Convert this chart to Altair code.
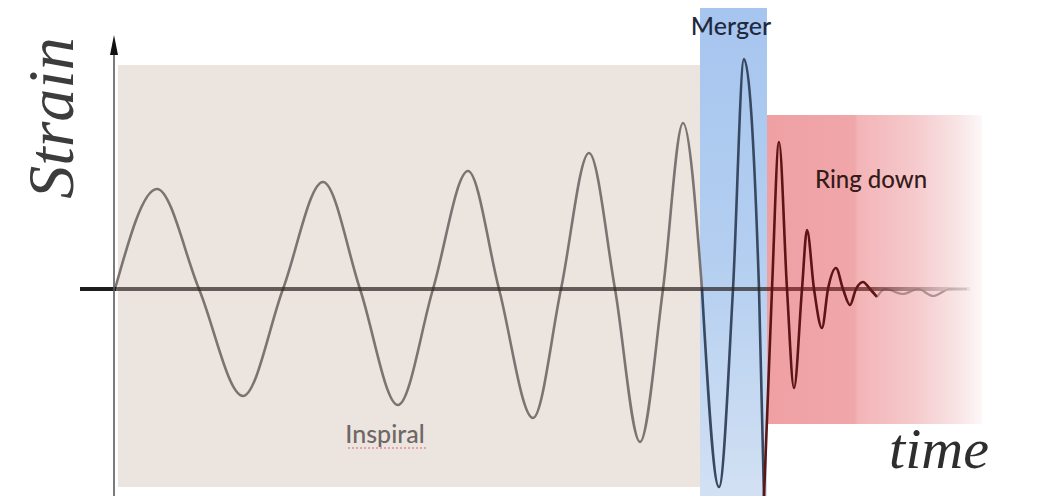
import altair as alt
import pandas as pd

# ---- waveform (time and strain in arbitrary units) ----
inspiral_t = [0.00, 0.42, 0.84, 1.28, 1.68, 2.08, 2.45, 2.83, 3.18, 3.53, 3.84,
              4.18, 4.46, 4.74, 5.00, 5.25, 5.48, 5.68, 5.87]
inspiral_h = [0.00, 1.00, 0.00, -1.07, 0.00, 1.07, 0.00, -1.16, 0.00, 1.18, 0.00,
              -1.29, 0.00, 1.36, 0.00, -1.53, 0.00, 1.66, 0.00]
merger_t = [5.87, 6.04, 6.18, 6.29, 6.44, 6.49]
merger_h = [0.00, -1.98, 0.00, 2.30, 0.00, -2.08]
ringdown_t = [6.49, 6.57, 6.64, 6.72, 6.79, 6.87, 6.92, 6.99, 7.07, 7.13, 7.21,
              7.28, 7.35, 7.41, 7.48, 7.55, 7.62]
ringdown_h = [-2.08, 0.00, 1.47, 0.00, -0.99, 0.00, 0.59, 0.00, -0.39, 0.00, 0.21,
              0.00, -0.16, 0.00, 0.07, 0.00, -0.08]
tail_t = [7.62, 7.70, 7.88, 8.03, 8.18, 8.35, 8.52]
tail_h = [-0.08, 0.00, -0.05, 0.00, -0.07, 0.00, 0.00]

# ---- phase bands ----
phase_names = ["Inspiral", "Merger", "Ring down"]
phase_t0 = [0.03, 5.85, 6.52]
phase_t1 = [5.85, 6.52, 8.67]
phase_h0 = [-1.98, -2.13, -1.35]
phase_h1 = [2.24, 2.89, 1.74]

# ---- labels ----
label_text = ["Inspiral", "Merger", "Ring down"]
label_t = [2.70, 6.16, 7.56]
label_h = [-1.54, 2.54, 1.01]
label_colors = ["#6f6765", "#1f2a40", "#351a1a"]
label_sizes = [25, 25, 24]

XDOM = [-1.07, 9.23]
YDOM = [-2.07, 2.81]
xs = alt.Scale(domain=XDOM, nice=False, zero=False)
ys = alt.Scale(domain=YDOM, nice=False, zero=False)


def X(field="t"):
    return alt.X(f"{field}:Q", scale=xs, axis=None)


def Y(field="h"):
    return alt.Y(f"{field}:Q", scale=ys, axis=None)


def band(i, fill):
    df = pd.DataFrame({"t": [phase_t0[i]], "t2": [phase_t1[i]],
                       "h": [phase_h0[i]], "h2": [phase_h1[i]]})
    return alt.Chart(df).mark_rect(fill=fill, clip=True).encode(
        x=X(), x2="t2:Q", y=Y(), y2="h2:Q")


inspiral_band = band(0, "#ebe4df")
merger_band = band(1, alt.Gradient(
    gradient="linear", x1=0, x2=0, y1=0, y2=1,
    stops=[alt.GradientStop(color="#a6c5ef", offset=0),
           alt.GradientStop(color="#b3cef0", offset=0.5),
           alt.GradientStop(color="#d3e1f3", offset=1)]))
ring_band = band(2, alt.Gradient(
    gradient="linear", x1=0, x2=1, y1=0, y2=0,
    stops=[alt.GradientStop(color="#efa0a3", offset=0),
           alt.GradientStop(color="#f0a7aa", offset=0.41),
           alt.GradientStop(color="#f3b4b7", offset=0.42),
           alt.GradientStop(color="#f5c9cb", offset=0.68),
           alt.GradientStop(color="#f9e6e7", offset=0.9),
           alt.GradientStop(color="#fdf8f8", offset=1)]))


def wave(ts, hs, color, width=2.6, opacity=1.0):
    df = pd.DataFrame({"t": ts, "h": hs})
    return alt.Chart(df).mark_line(
        interpolate="monotone", color=color, strokeWidth=width,
        opacity=opacity, clip=True).encode(x=X(), y=Y())


w_insp = wave(inspiral_t, inspiral_h, "#7c7472")
w_merg = wave(merger_t, merger_h, "#384860")
w_ring = wave(ringdown_t, ringdown_h, "#5c1414")
w_tail = wave(tail_t, tail_h, "#7a5a5a", 2.2, 0.55)

# horizontal time axis (thick bar)
axis_black = alt.Chart(pd.DataFrame({"t": [-0.35], "t2": [0.01], "h": [-0.02], "h2": [0.02]})
                       ).mark_rect(fill="#1c1c1c").encode(x=X(), x2="t2:Q", y=Y(), y2="h2:Q")
axis_main = alt.Chart(pd.DataFrame({"t": [0.01], "t2": [8.55], "h": [-0.02], "h2": [0.02]})
                      ).mark_rect(opacity=0.7, fill=alt.Gradient(
                          gradient="linear", x1=0, x2=1, y1=0, y2=0,
                          stops=[alt.GradientStop(color="#2a2020", offset=0),
                                 alt.GradientStop(color="#2a2020", offset=0.76),
                                 alt.GradientStop(color="#5a0e0e", offset=0.765),
                                 alt.GradientStop(color="#5a1c1c", offset=0.88),
                                 alt.GradientStop(color="#e8dcdc", offset=1)])
                      ).encode(x=X(), x2="t2:Q", y=Y(), y2="h2:Q")

# vertical strain axis with arrow head
v_axis = alt.Chart(pd.DataFrame({"t": [-0.01], "h": [2.34], "h2": [-2.13]})).mark_rule(
    color="#5a5a5a", strokeWidth=1.6, clip=True).encode(x=X(), y=Y(), y2="h2:Q")
arrow = alt.Chart(pd.DataFrame({"t": [-0.01], "h": [2.44]})).mark_point(
    shape="M0,-1L0.4,1L-0.4,1Z", filled=True, size=400, color="#111111",
    opacity=1).encode(x=X(), y=Y())

# texts
strain_lbl = alt.Chart(pd.DataFrame({"t": [-0.42], "h": [1.71], "txt": ["Strain"]})).mark_text(
    angle=270, align="center", baseline="alphabetic", font="Liberation Serif",
    fontStyle="italic", fontSize=66, color="#3c3c3c").encode(x=X(), y=Y(), text="txt:N")
time_lbl = alt.Chart(pd.DataFrame({"t": [8.24], "h": [-1.79], "txt": ["time"]})).mark_text(
    align="center", baseline="alphabetic", font="Liberation Serif",
    fontStyle="italic", fontSize=58, color="#2e2e2e").encode(x=X(), y=Y(), text="txt:N")

phase_labels = []
for txt, t, h, c, fs in zip(label_text, label_t, label_h, label_colors, label_sizes):
    phase_labels.append(
        alt.Chart(pd.DataFrame({"t": [t], "h": [h], "txt": [txt]})).mark_text(
            align="center", baseline="alphabetic", font="Lato",
            fontSize=fs, fontWeight=500, color=c).encode(x=X(), y=Y(), text="txt:N"))

underline = alt.Chart(pd.DataFrame({"t": [2.33], "t2": [3.13], "h": [-1.59]})).mark_rule(
    color="#e28d8d", strokeWidth=1.4, strokeDash=[2, 2]).encode(x=X(), x2="t2:Q", y=Y())

chart = alt.layer(
    inspiral_band, merger_band, ring_band,
    w_insp, w_merg, w_ring, w_tail,
    axis_main, axis_black,
    v_axis, arrow,
    strain_lbl, time_lbl, *phase_labels, underline,
).properties(
    width=1030, height=488, padding=0,
    autosize=alt.AutoSizeParams(type="fit", contains="padding"),
    background="white",
).configure_view(stroke=None)

chart.save("out.html", embed_options={"renderer": "svg", "actions": False})
